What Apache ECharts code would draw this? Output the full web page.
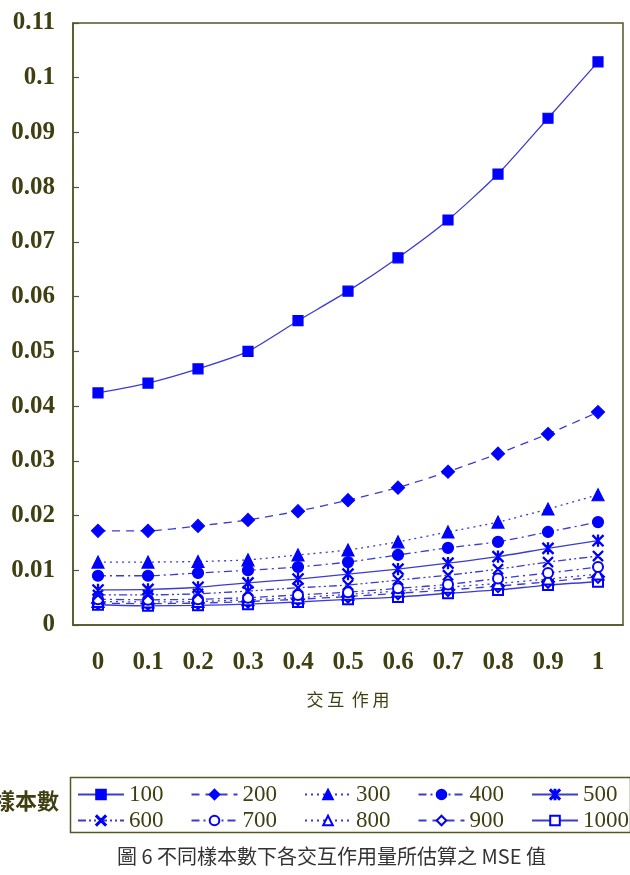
<!DOCTYPE html>
<html>
<head>
<meta charset="utf-8">
<script src="https://cdn.jsdelivr.net/npm/echarts@6/dist/echarts.min.js"></script>
<style>
  html, body { margin: 0; padding: 0; background: #fff; }
  #chart { width: 630px; height: 875px; }
</style>
</head>
<body>
<div id="chart"></div>
<script>
/* ---------- 資料 ---------- */
const xLabels = ["0", "0.1", "0.2", "0.3", "0.4", "0.5", "0.6", "0.7", "0.8", "0.9", "1"];
const seriesNames = ["100", "200", "300", "400", "500", "600", "700", "800", "900", "1000"];

const mse100  = [0.0424, 0.0442, 0.0468, 0.0500, 0.0556, 0.0610, 0.0671, 0.0740, 0.0824, 0.0926, 0.1029];
const mse200  = [0.0172, 0.0172, 0.0181, 0.0192, 0.0208, 0.0228, 0.0251, 0.0280, 0.0313, 0.0349, 0.0389];
const mse300  = [0.0115, 0.0115, 0.0116, 0.0119, 0.0128, 0.0137, 0.0152, 0.0170, 0.0188, 0.0212, 0.0238];
const mse400  = [0.0090, 0.0090, 0.0095, 0.0100, 0.0106, 0.0115, 0.0128, 0.0141, 0.0152, 0.0170, 0.0188];
const mse500  = [0.0064, 0.0065, 0.0069, 0.0077, 0.0084, 0.0093, 0.0102, 0.0113, 0.0125, 0.0140, 0.0154];
const mse600  = [0.0055, 0.0055, 0.0057, 0.0062, 0.0068, 0.0073, 0.0082, 0.0091, 0.0102, 0.0115, 0.0126];
const mse700  = [0.0047, 0.0046, 0.0047, 0.0050, 0.0055, 0.0060, 0.0067, 0.0074, 0.0085, 0.0095, 0.0106];
const mse800  = [0.0043, 0.0042, 0.0043, 0.0046, 0.0050, 0.0056, 0.0062, 0.0069, 0.0076, 0.0084, 0.0093];
const mse900  = [0.0040, 0.0039, 0.0040, 0.0043, 0.0047, 0.0052, 0.0058, 0.0064, 0.0071, 0.0079, 0.0088];
const mse1000 = [0.0037, 0.0035, 0.0036, 0.0038, 0.0042, 0.0047, 0.0051, 0.0058, 0.0064, 0.0073, 0.0079];

const allData = [mse100, mse200, mse300, mse400, mse500, mse600, mse700, mse800, mse900, mse1000];

/* ---------- 樣式 ---------- */
const OLIVE = "#3f3f12";
const FRAME = "#55552a";
const MARK  = "#0000ff";
const LINE  = "#3b3bd6";

// 星號、叉號
const STAR = "path://M9 0L11 0L11 20L9 20Z M0 1.5L1.5 0L20 18.5L18.5 20Z M18.5 0L20 1.5L1.5 20L0 18.5Z";
const CROSS = "path://M0 1.5L1.5 0L20 18.5L18.5 20Z M18.5 0L20 1.5L1.5 20L0 18.5Z";

const styles = [
    { symbol: "rect",          size: 10, dash: "solid" },
    { symbol: "diamond",       size: 13, dash: [8, 6] },
    { symbol: "triangle",      size: 12, dash: [2, 4] },
    { symbol: "circle",        size: 11, dash: [8, 4, 2, 4] },
    { symbol: STAR,            size: 11, dash: "solid" },
    { symbol: CROSS,           size: 10, dash: [8, 3, 2, 3, 2, 3] },
    { symbol: "emptyCircle",   size: 10, dash: [8, 4, 2, 4] },
    { symbol: "emptyTriangle", size: 11, dash: [2, 4] },
    { symbol: "emptyDiamond",  size: 12, dash: [8, 6] },
    { symbol: "emptyRect",     size: 10, dash: "solid" },
];

const series = seriesNames.map((name, i) => ({
    name,
    type: "line",
    data: allData[i],
    symbol: styles[i].symbol,
    symbolSize: styles[i].size,
    smooth: 0.2,
    z: 20 - i,
    itemStyle: { color: MARK, borderColor: MARK, borderWidth: 1.2 },
    lineStyle: { color: LINE, width: 1.3, type: styles[i].dash },
    emphasis: { disabled: true },
}));

const legendText = { color: OLIVE, fontFamily: "Liberation Serif", fontSize: 23 };
const legendBase = {
    left: 72, width: 560, orient: "horizontal",
    itemWidth: 46, itemHeight: 12, itemGap: 27,
    selectedMode: false, textStyle: legendText,
};

const chart = echarts.init(document.getElementById("chart"));
chart.setOption({
    animation: false,
    grid: {
        left: 73, right: 7, top: 23, bottom: 250,
        show: true, borderColor: FRAME, borderWidth: 1.5, backgroundColor: "transparent",
    },
    xAxis: {
        type: "category",
        data: xLabels,
        boundaryGap: true,
        axisLine: { lineStyle: { color: FRAME, width: 1.5 } },
        axisTick: { inside: true, length: 6, lineStyle: { color: FRAME, width: 1.2 } },
        axisLabel: {
            color: OLIVE, fontFamily: "Liberation Serif", fontWeight: "bold",
            fontSize: 25, margin: 25,
        },
        name: "交 互  作 用",
        nameLocation: "middle",
        nameGap: 66,
        nameTextStyle: { color: OLIVE, fontFamily: "Noto Sans CJK TC", fontSize: 17 },
    },
    yAxis: {
        type: "value",
        min: 0, max: 0.11, interval: 0.01,
        axisLine: { show: true, lineStyle: { color: FRAME, width: 1.5 } },
        axisTick: { show: true, inside: true, length: 6, lineStyle: { color: FRAME, width: 1.2 } },
        splitLine: { show: false },
        axisLabel: {
            color: OLIVE, fontFamily: "Liberation Serif", fontWeight: "bold",
            fontSize: 25, margin: 18,
            formatter: (v) => String(+v.toFixed(2)),
        },
    },
    legend: [
        Object.assign({ data: seriesNames.slice(0, 5), top: 778 }, legendBase),
        Object.assign({ data: seriesNames.slice(5), top: 804 }, legendBase),
    ],
    graphic: [
        {
            type: "rect", left: 68, top: 775,
            shape: { width: 560, height: 55 },
            style: { fill: "none", stroke: FRAME, lineWidth: 1.5 },
        },
        {
            type: "text", x: -7, y: 790,
            style: {
                text: "樣本數", fill: OLIVE, fontFamily: "Noto Sans CJK TC",
                fontWeight: "bold", fontSize: 22,
            },
        },
        {
            type: "text", left: 117, top: 846,
            style: {
                text: "圖 6 不同樣本數下各交互作用量所估算之 MSE 值",
                fill: "#333", fontFamily: "Noto Sans CJK TC", fontSize: 20,
            },
        },
    ],
    series,
});
</script>
</body>
</html>
